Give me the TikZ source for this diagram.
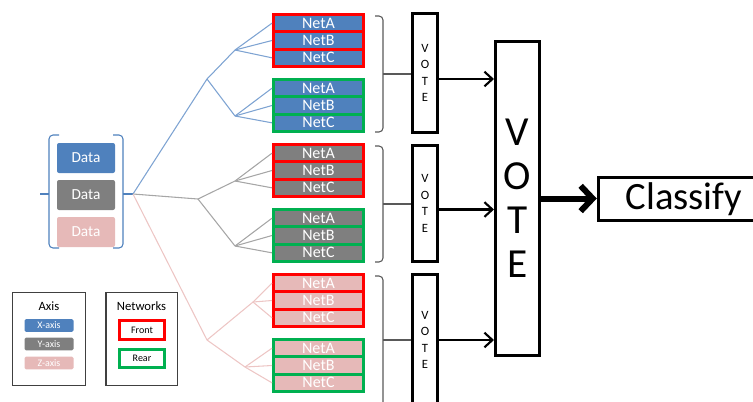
\documentclass[tikz,border=0pt]{standalone}
\usepackage{fontspec}
\setmainfont{Carlito}
\usepackage{xcolor}
\usetikzlibrary{arrows.meta}

\definecolor{netblue}{HTML}{4F81BD}
\definecolor{netgray}{HTML}{7F7F7F}
\definecolor{netpink}{HTML}{E6B9B8}
\definecolor{lineblue}{HTML}{7EA3D2}
\definecolor{linegray}{HTML}{A6A6A6}
\definecolor{linepink}{HTML}{EDC6C5}
\definecolor{frontred}{HTML}{FF0000}
\definecolor{reargreen}{HTML}{00B050}

\tikzset{
	netcell/.style={draw, line width=2.25pt, minimum width=67.5pt, minimum height=13pt, inner sep=0pt, text=white, font=\fontsize{12}{13}\selectfont},
	databox/.style={rounded corners=1.5pt, minimum width=43.5pt, minimum height=22.5pt, inner sep=0pt, text=white, font=\fontsize{11.5}{13}\selectfont},
	votebox/.style={draw, line width=2.25pt, inner sep=0pt, align=center},
	tree/.style={line width=0.8pt},
	databrk/.style={netblue, line width=0.8pt, rounded corners=3pt},
	netbrk/.style={black!65, line width=0.8pt, rounded corners=3pt},
	votearrow/.style={line width=1.6pt, -{Straight Barb[length=6pt, width=11pt]}},
	bigarrow/.style={line width=4.5pt, -{Straight Barb[length=9pt, width=19pt]}},
	legbox/.style={draw=black!75, line width=1pt},
	legtitle/.style={inner sep=0pt, font=\fontsize{9.5}{11}\selectfont},
	axisbar/.style={rounded corners=1pt, minimum width=36.75pt, minimum height=9.4pt, inner sep=0pt, text=white, font=\fontsize{7.5}{8}\selectfont},
	netkey/.style={draw, line width=2.25pt, minimum width=33.75pt, minimum height=14pt, inner sep=0pt, font=\fontsize{7.5}{8}\selectfont}
}

\begin{document}
\begin{tikzpicture}[x=0.75pt, y=-0.75pt]
			\def\netx{318.5};
			\def\votex{425};

			\useasboundingbox (0,0) rectangle (753,401);
			\clip (0,0) rectangle (753,401);

			\begin{scope}
				\foreach \ax/\fillc/\gy in {x/netblue/0, y/netgray/130, z/netpink/260}
				{
					\foreach \side/\drawc/\off in {f/frontred/14.5, r/reargreen/79.5}
					{
						\foreach \row [count=\k from 0] in {A,B,C}
						{
							\node[netcell, fill=\fillc, draw=\drawc] (\ax\side\row) at (\netx,{\gy+\off+8.67+\k*17.33}) {Net\row};
						}
					}
				}
			\end{scope}

			\begin{scope}
				\node[databox, fill=netblue] (dx) at (86,158) {Data};
				\node[databox, fill=netgray] (dy) at (86,195) {Data};
				\node[databox, fill=netpink] (dz) at (86,232) {Data};
			\end{scope}

			\begin{scope}[databrk]
				\draw (59,135) -- (49,135) -- (49,248) -- (59,248);
				\draw (113,135) -- (123,135) -- (123,248) -- (113,248);
				\coordinate (dl) at (49,194);
				\coordinate (dlend) at (40,194);
				\coordinate (dr) at (123,194);
				\coordinate (root) at (133,194);
				\draw (dl) -- (dlend);
				\draw (dr) -- (root);
			\end{scope}

			\begin{scope}
				\coordinate (jx) at (207,79);
				\coordinate (jxf) at (235,50);
				\coordinate (jxr) at (235,116);
				\coordinate (jy) at (198,199);
				\coordinate (jyf) at (235,181);
				\coordinate (jyr) at (235,246);
				\coordinate (jz) at (207,340);
				\coordinate (jzf) at (253,302);
				\coordinate (jzr) at (245,367);
				\foreach \ax/\linec in {x/lineblue, y/linegray, z/linepink}
				{
					\draw[tree, draw=\linec] (root) -- (j\ax);
					\foreach \side in {f,r}
					{
						\draw[tree, draw=\linec] (j\ax) -- (j\ax\side);
						\foreach \row in {A,B,C}
						{
							\draw[tree, draw=\linec] (j\ax\side) -- (\ax\side\row.west);
						}
					}
				}
			\end{scope}

			\begin{scope}
				\foreach \g/\cy/\h in {1/73/89.25pt, 2/203.5/87pt, 3/340/98.25pt}
				{
					\node[votebox, minimum width=18.75pt, minimum height=\h, font=\fontsize{9.5}{12.3}\selectfont] (v\g) at (\votex,\cy) {V\\O\\T\\E};
				}
				\foreach \g/\t/\m/\b in {1/16/74/132, 2/146/204/262, 3/276/340/410}
				{
					\draw[netbrk] (375,\t) -- (383,\t) -- (383,\b) -- (375,\b);
					\coordinate (b\g) at (383,\m);
					\draw[netbrk, sharp corners] (b\g) -- (b\g -| v\g.west);
				}
			\end{scope}

			\begin{scope}
				\node[votebox, minimum width=33pt, minimum height=235.5pt, font=\fontsize{31}{33}\selectfont] (vote) at (517.5,198.5) {V\\O\\T\\E};
				\node[votebox, minimum width=128.6pt, minimum height=32.25pt, font=\fontsize{29}{31}\selectfont] (classify) at (684,199) {Classify};
				\foreach \g/\dy in {1/-4.5pt, 2/-4.5pt, 3/0pt}
				{
					\draw[votearrow] ([yshift=\dy]v\g.east) -- ([yshift=\dy]v\g.east -| vote.west);
				}
				\draw[bigarrow] (vote.east) -- (vote.east -| classify.west);
			\end{scope}

			\begin{scope}
				\node[legbox, minimum width=54.5pt, minimum height=69.5pt] (legaxis) at (49,339) {};
				\node[legtitle] (axistitle) at (49,306) {Axis};
				\node[axisbar, fill=netblue] (barx) at (49,325.5) {X-axis};
				\node[axisbar, fill=netgray] (bary) at (49,344) {Y-axis};
				\node[axisbar, fill=netpink] (barz) at (49,363) {Z-axis};

				\node[legbox, minimum width=53.5pt, minimum height=69.5pt] (legnet) at (141.5,339) {};
				\node[legtitle] (nettitle) at (141.5,306) {Networks};
				\node[netkey, draw=frontred] (keyfront) at (142,330) {Front};
				\node[netkey, draw=reargreen] (keyrear) at (142,358.5) {Rear};
			\end{scope}
		\end{tikzpicture}
\end{document}
